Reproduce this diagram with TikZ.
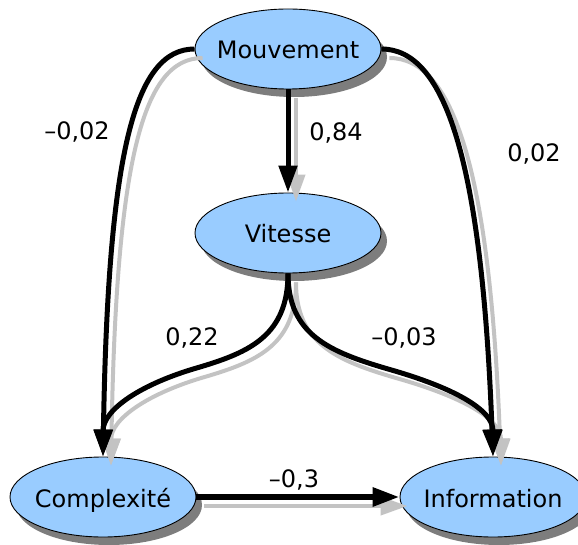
\documentclass[tikz,border=0pt]{standalone}
\usepackage{fontspec}
\setmainfont{DejaVu Sans}
\usetikzlibrary{arrows.meta,shapes.geometric,shadows}
\definecolor{nodefill}{RGB}{153,204,255}
\definecolor{nodeshadow}{RGB}{125,125,125}
\definecolor{edgeshadow}{RGB}{195,195,195}
% label set in a zero-width box so that the ellipse keeps its fixed size
\newcommand{\varname}[1]{\makebox[0pt]{#1}}

\begin{document}
\begin{tikzpicture}[x=1pt,y=-1pt,
  var/.style={ellipse, draw=black, line width=0.9pt, fill=nodefill,
    minimum width=186pt, minimum height=80pt, inner sep=0pt,
    text height=20pt, text depth=0pt, font=\fontsize{24}{28}\selectfont,
    drop shadow={shadow xshift=6pt, shadow yshift=-8pt, fill=nodeshadow, opacity=1}},
  link/.style={draw=black, line width=5pt, -{Triangle[length=27pt,width=18pt]}},
  thicklink/.style={link, line width=6pt},
  linkshadow/.style={draw=edgeshadow, line width=4pt,
    -{Triangle[length=27pt,width=18pt]},
    transform canvas={shift={(8pt,-9pt)}}},
  coef/.style={anchor=base, font=\fontsize{24}{28}\selectfont}
]
\useasboundingbox (0,0) rectangle (578,545);

% variables
\node[var] (mv) at (288,49)  {\varname{Mouvement}};
\node[var] (vi) at (288,233) {\varname{Vitesse}};
\node[var] (cx) at (103,497) {\varname{Complexité}};
\node[var] (in) at (493,497) {\varname{Information}};

% shadows of the paths
\draw[linkshadow] (mv.south) -- (vi.north);
\draw[linkshadow] (mv.west) .. controls (135,49) and (108,150) .. (cx.north);
\draw[linkshadow] (mv.east) .. controls (445,49) and (482,160) .. (in.north);
\draw[linkshadow] (vi.south) .. controls (288,335) and (250,352) .. (200,367)
                      .. controls (140,384) and (103,410) .. (cx.north);
\draw[linkshadow] (vi.south) .. controls (288,335) and (330,352) .. (388,369)
                      .. controls (455,388) and (493,410) .. (in.north);
\draw[linkshadow] (cx.east) -- (in.west);

% paths
\draw[link] (mv.south) -- (vi.north);
\draw[link] (mv.west) .. controls (135,49) and (108,150) .. (cx.north);
\draw[link] (mv.east) .. controls (445,49) and (482,160) .. (in.north);
\draw[link] (vi.south) .. controls (288,335) and (250,352) .. (200,367)
                      .. controls (140,384) and (103,410) .. (cx.north);
\draw[link] (vi.south) .. controls (288,335) and (330,352) .. (388,369)
                      .. controls (455,388) and (493,410) .. (in.north);
\draw[thicklink] (cx.east) -- (in.west);

% path coefficients
\node[coef] (c1) at (77,140)  {–0,02};
\node[coef] (c2) at (336,141) {0,84};
\node[coef] (c3) at (534,162) {0,02};
\node[coef] (c4) at (192,345) {0,22};
\node[coef] (c5) at (404,345) {–0,03};
\node[coef] (c6) at (294,487) {–0,3};
\end{tikzpicture}
\end{document}
